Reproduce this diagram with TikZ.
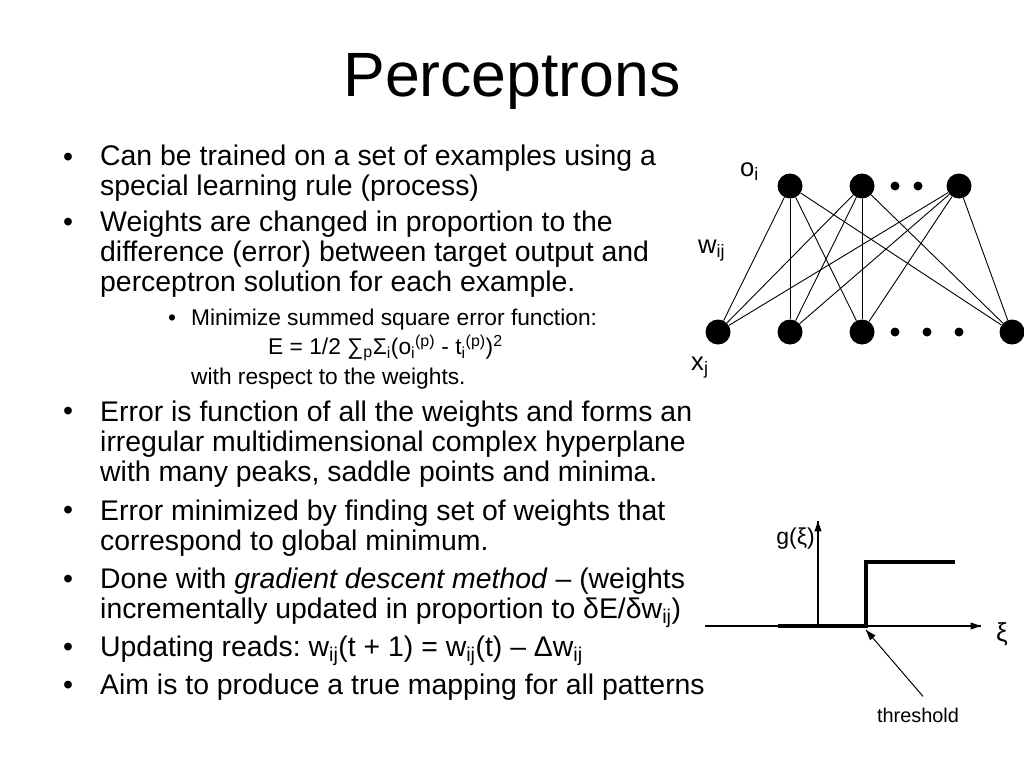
\documentclass[tikz,border=0pt]{standalone}
\usepackage{fontspec}
\setmainfont{Liberation Sans}
\usetikzlibrary{calc}
\newcommand{\lo}[1]{\textsubscript{#1}}
\newcommand{\hi}[1]{\textsuperscript{#1}}
\frenchspacing

\begin{document}
\begin{tikzpicture}[x=1pt,y=-1pt,
    txt/.style={anchor=base west,inner sep=0pt,align=left,font=\fontsize{28.4}{30}\selectfont},
    subtxt/.style={anchor=base west,inner sep=0pt,align=left,font=\fontsize{22.75}{29.5}\selectfont},
    unit/.style={circle,fill=black,inner sep=0pt,minimum size=25pt},
    dot/.style={circle,fill=black,inner sep=0pt,minimum size=9pt},
    lbl/.style={anchor=base west,inner sep=0pt,font=\fontsize{25.6}{28}\selectfont}]
        % frame
        \useasboundingbox (0,0) rectangle (1024,768);
        \fill[white] (0,0) rectangle (1024,768);
        % title
        \node[anchor=base,inner sep=0pt,font=\fontsize{62.6}{70}\selectfont] (title) at (512,96) {Perceptrons};
        % bullets (multi-line nodes sit on their last baseline)
        \foreach \y in {166,231,420,519,588,656,694}
          \node[txt] (bul\y) at (63,\y) {\textbullet};
        \node[txt] (train) at (100,195) {Can be trained on a set of examples using a\\special learning rule (process)};
        \node[txt] (weights) at (100,291) {Weights are changed in proportion to the\\difference (error) between target output and\\perceptron solution for each example.};
        \node[subtxt] (subbul) at (168,325) {\textbullet};
        \node[subtxt] (minimize) at (191,384) {Minimize summed square error function:\\\hspace*{77pt}E = 1/2 ∑\lo{p}Σ\lo{i}(o\lo{i}\hi{(p)} - t\lo{i}\hi{(p)})\hi{2}\\with respect to the weights.};
        \node[txt] (error) at (100,481) {Error is function of all the weights and forms an\\irregular multidimensional complex hyperplane\\with many peaks, saddle points and minima.};
        \node[txt] (errmin) at (100,550) {Error minimized by finding set of weights that\\correspond to global minimum.};
        \node[txt] (done) at (100,618) {Done with \textit{gradient descent method} – (weights\\incrementally updated in proportion to δE/δw\lo{ij})};
        \node[txt] (update) at (100,656) {Updating reads: w\lo{ij}(t + 1) = w\lo{ij}(t) – Δw\lo{ij}};
        \node[txt] (aim) at (100,694) {Aim is to produce a true mapping for all patterns};
        % network
        \foreach \n/\x in {1/790,2/862,3/959} \node[unit] (o\n) at (\x,186) {};
        \foreach \n/\x in {1/718,2/790,3/862,4/1012} \node[unit] (x\n) at (\x,332) {};
        \foreach \n/\x in {1/895,2/918} \node[dot] (od\n) at (\x,186) {};
        \foreach \n/\x in {1/895,2/927,3/959} \node[dot] (xd\n) at (\x,332) {};
        \foreach \i in {1,2,3}
          \foreach \j in {1,...,4} \draw[line width=0.9pt] (o\i) -- (x\j);
        \node[lbl] (oi) at (740,176) {o\lo{i}};
        \node[lbl] (wij) at (698,253) {w\lo{ij}};
        \node[lbl] (xj) at (691,370) {x\lo{j}};
        % step function
        \coordinate (hl) at (705,626);
        \coordinate (hr) at (981,626);
        \coordinate (vb) at (818,626);
        \coordinate (vt) at (818,521);
        \coordinate (s0) at (778,626);
        \coordinate (s1) at (866,626);
        \coordinate (s2) at (955,562);
        \coordinate (thpt) at (866,630);
        \draw[line width=1.2pt] (hl) -- (hr);
        \draw[line width=1.2pt] (vb) -- (vt);
        \draw[line width=3.5pt] (s0) -- (s1) |- (s2);
        \node[anchor=base east,inner sep=0pt,font=\fontsize{23}{25}\selectfont] (g) at (815,544) {g(ξ)};
        \node[inner sep=0pt,font=\fontsize{26}{28}\selectfont] (xi) at (1002,634) {ξ};
        \node[anchor=base,inner sep=0pt,font=\fontsize{19.9}{22}\selectfont] (thr) at (918,722) {threshold};
        \coordinate (tail) at ([shift={(5,-11)}]thr.north);
        \draw[line width=1pt] (tail) -- (thpt);
        % arrow heads
        \foreach \tip/\from in {hr/hl,vt/vb,thpt/tail}
          \fill ($(\tip)!11pt!-19:(\from)$) -- (\tip) -- ($(\tip)!11pt!19:(\from)$) -- cycle;
\end{tikzpicture}
\end{document}
